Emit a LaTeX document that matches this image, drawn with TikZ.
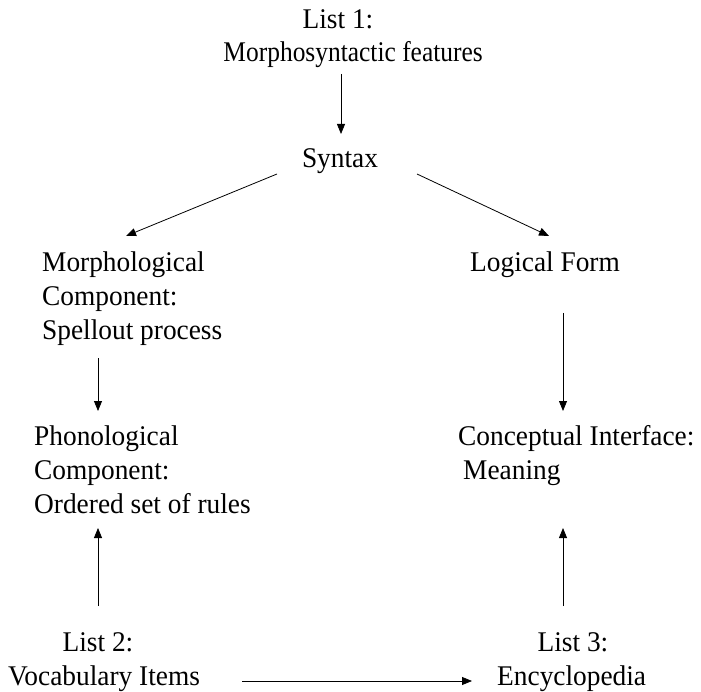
\documentclass[tikz,border=0pt]{standalone}
\usepackage{fontspec}
\setmainfont{Liberation Serif}[FakeStretch=0.96]
\usetikzlibrary{arrows.meta}
\begin{document}
\begin{tikzpicture}[x=1pt,y=-1pt,
  lbl/.style={inner sep=0pt, font=\fontsize{28.5}{34}\selectfont},
  arr/.style={-{Triangle[length=10pt,width=8pt]}, line width=0.8pt}]
\useasboundingbox[fill=white] (0,0) rectangle (701,692);

% top: list 1 and syntax
\node[lbl,anchor=base]      (l1a) at (338,29)  {List 1:};
\node[lbl,anchor=base east] (l1b) at (483,62)  {\scalebox{0.93}[1]{Morphosyntactic features}};
\node[lbl,anchor=base]      (syn) at (340,168) {Syntax};

% left branch: morphology and phonology
\node[lbl,anchor=base west] (mo1) at (42,272) {Morphological};
\node[lbl,anchor=base west] (mo2) at (42,306) {Component:};
\node[lbl,anchor=base west] (mo3) at (42,340) {Spellout process};
\node[lbl,anchor=base west] (ph1) at (34,445) {Phonological};
\node[lbl,anchor=base west] (ph2) at (34,479) {Component:};
\node[lbl,anchor=base west] (ph3) at (34,513) {Ordered set of rules};

% right branch: logical form and meaning
\node[lbl,anchor=base west] (lf)  at (470,272) {Logical Form};
\node[lbl,anchor=base west] (ci1) at (458,445) {Conceptual Interface:};
\node[lbl,anchor=base west] (ci2) at (463,479) {Meaning};

% bottom: lists 2 and 3
\node[lbl,anchor=base]      (l2a) at (98,651)  {List 2:};
\node[lbl,anchor=base west] (l2b) at (8,685)   {Vocabulary Items};
\node[lbl,anchor=base]      (l3a) at (573,651) {List 3:};
\node[lbl,anchor=base west] (l3b) at (497,685) {Encyclopedia};

% connector end points
\coordinate (a1s) at (341,74);  \coordinate (a1e) at (341,134);
\coordinate (dls) at (277,174); \coordinate (dle) at (126,236);
\coordinate (drs) at (417,174); \coordinate (dre) at (549,236);
\coordinate (mls) at (98,358);  \coordinate (mle) at (98,411);
\coordinate (lfs) at (563,313); \coordinate (lfe) at (563,411);
\coordinate (vis) at (98,606);  \coordinate (vie) at (98,528);
\coordinate (ens) at (563,606); \coordinate (ene) at (563,528);
\coordinate (hs)  at (242,681); \coordinate (he)  at (472,681);

\draw[arr] (a1s) -- (a1e);
\draw[arr] (dls) -- (dle);
\draw[arr] (drs) -- (dre);
\draw[arr] (mls) -- (mle);
\draw[arr] (lfs) -- (lfe);
\draw[arr] (vis) -- (vie);
\draw[arr] (ens) -- (ene);
\draw[arr] (hs)  -- (he);
\end{tikzpicture}
\end{document}
